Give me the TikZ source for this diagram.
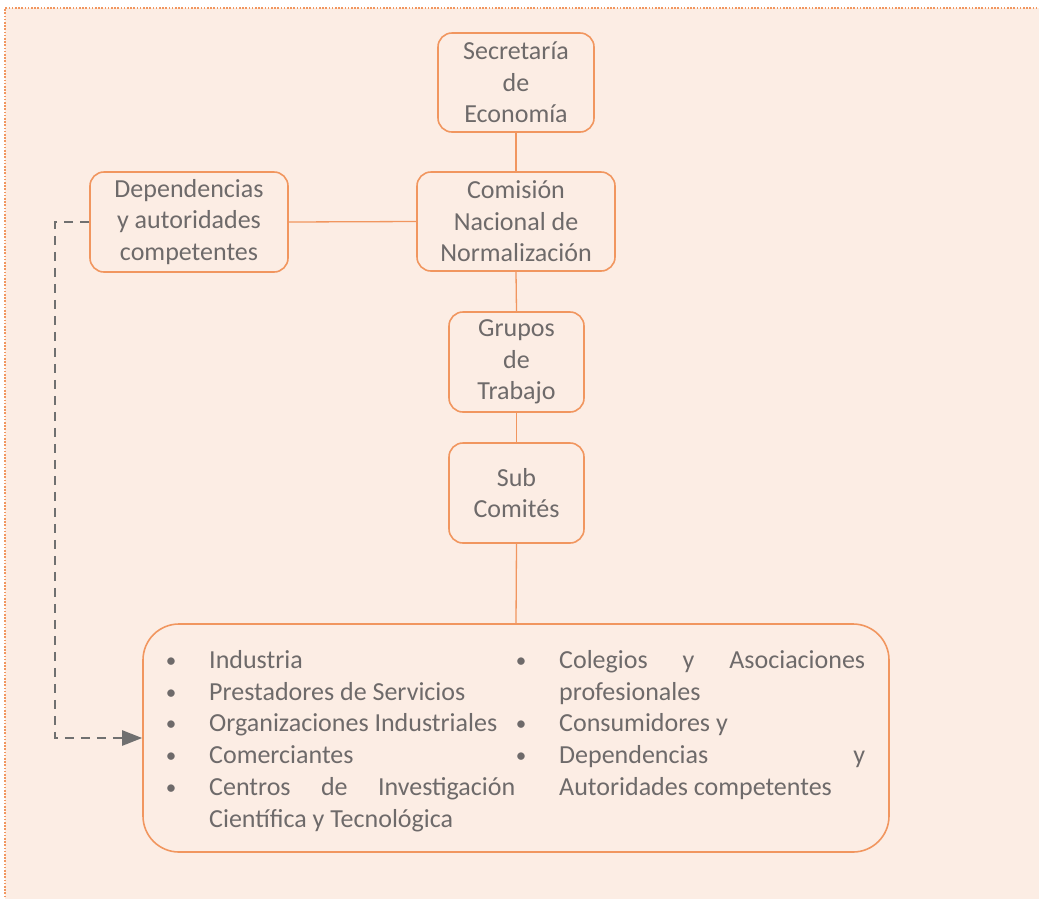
\documentclass[tikz,border=0pt]{standalone}
\usepackage{fontspec}
\setmainfont{Carlito}
\usetikzlibrary{arrows.meta}
\definecolor{bgpeach}{RGB}{252,237,228}
\definecolor{boxorange}{RGB}{241,150,95}
\definecolor{txtgray}{RGB}{110,106,106}
\definecolor{dashgray}{RGB}{112,112,112}
\tikzset{
  orgbox/.style={draw=boxorange, line width=1.6pt, rounded corners=14pt, inner sep=0pt,
    align=center, text=txtgray, font=\fontsize{26}{31.5}\selectfont},
  link/.style={draw=boxorange, line width=1.3pt},
  itemtxt/.style={anchor=base west, inner sep=0pt, text=txtgray, font=\fontsize{26}{31.5}\selectfont},
  bul/.style={anchor=base, inner sep=0pt, text=txtgray, font=\fontsize{21}{31.5}\selectfont},
}
\begin{document}
\begin{tikzpicture}[x=1pt,y=-1pt]
\useasboundingbox (0,0) rectangle (1039,898);
\clip (0,0) rectangle (1039,898);
\fill[bgpeach] (5,8) rectangle (1050,910);
\draw[boxorange, line width=2.2pt, dash pattern=on 1.6pt off 1.6pt] (5,910) -- (5,8) -- (1050,8);

\node[orgbox, minimum width=156pt, minimum height=99pt] (sec) at (516,82.5) {Secretaría\\de\\Economía};
\node[orgbox, minimum width=198pt, minimum height=99pt] (com) at (516,221.5) {Comisión\\Nacional de\\Normalización};
\node[orgbox, minimum width=198pt, minimum height=100pt] (dep) at (189,222) {Dependencias\\y autoridades\\competentes};
\node[orgbox, minimum width=135pt, minimum height=100pt] (gru) at (516.5,362) {Grupos\\de\\Trabajo};
\node[orgbox, minimum width=135pt, minimum height=100pt] (sub) at (516.5,493) {Sub\\Comités};
\node[draw=boxorange, line width=1.6pt, rounded corners=36pt, minimum width=746pt, minimum height=228pt, inner sep=0pt] (big) at (516,738) {};

\draw[link] (sec.south) -- (com.north);
\draw[link] (dep.east) -- (com.west);
\draw[link] (com.south) -- (gru.north);
\draw[link] (gru.south) -- (sub.north);
\draw[link] (sub.south) -- (big.north);

\coordinate (turn) at (55,222);
\draw[dashgray, line width=2.4pt, dash pattern=on 9pt off 7pt, -{Triangle[length=20pt,width=15pt]}] (dep.west) -- (turn) |- (big.west);

% left column
\node[bul] (b1) at (171,667) {•};
\node[bul] (b2) at (171,699) {•};
\node[bul] (b3) at (171,730) {•};
\node[bul] (b4) at (171,762) {•};
\node[bul] (b5) at (171,794) {•};
\node[itemtxt] (t1) at (209,668) {Industria};
\node[itemtxt] (t2) at (209,700) {Prestadores de Servicios};
\node[itemtxt] (t3) at (209,731) {Organizaciones Industriales};
\node[itemtxt] (t4) at (209,763) {Comerciantes};
\node[itemtxt] (t5) at (209,795) {\makebox[306pt][s]{Centros de Investigación}};
\node[itemtxt] (t6) at (209,827) {Científica y Tecnológica};
% right column
\node[bul] (c1) at (521,667) {•};
\node[bul] (c3) at (521,730) {•};
\node[bul] (c4) at (521,762) {•};
\node[itemtxt] (r1) at (559,668) {\makebox[306pt][s]{Colegios y Asociaciones}};
\node[itemtxt] (r2) at (559,700) {profesionales};
\node[itemtxt] (r3) at (559,731) {Consumidores y};
\node[itemtxt] (r4) at (559,763) {\makebox[306pt][s]{Dependencias y}};
\node[itemtxt] (r5) at (559,795) {Autoridades competentes};
\end{tikzpicture}
\end{document}
